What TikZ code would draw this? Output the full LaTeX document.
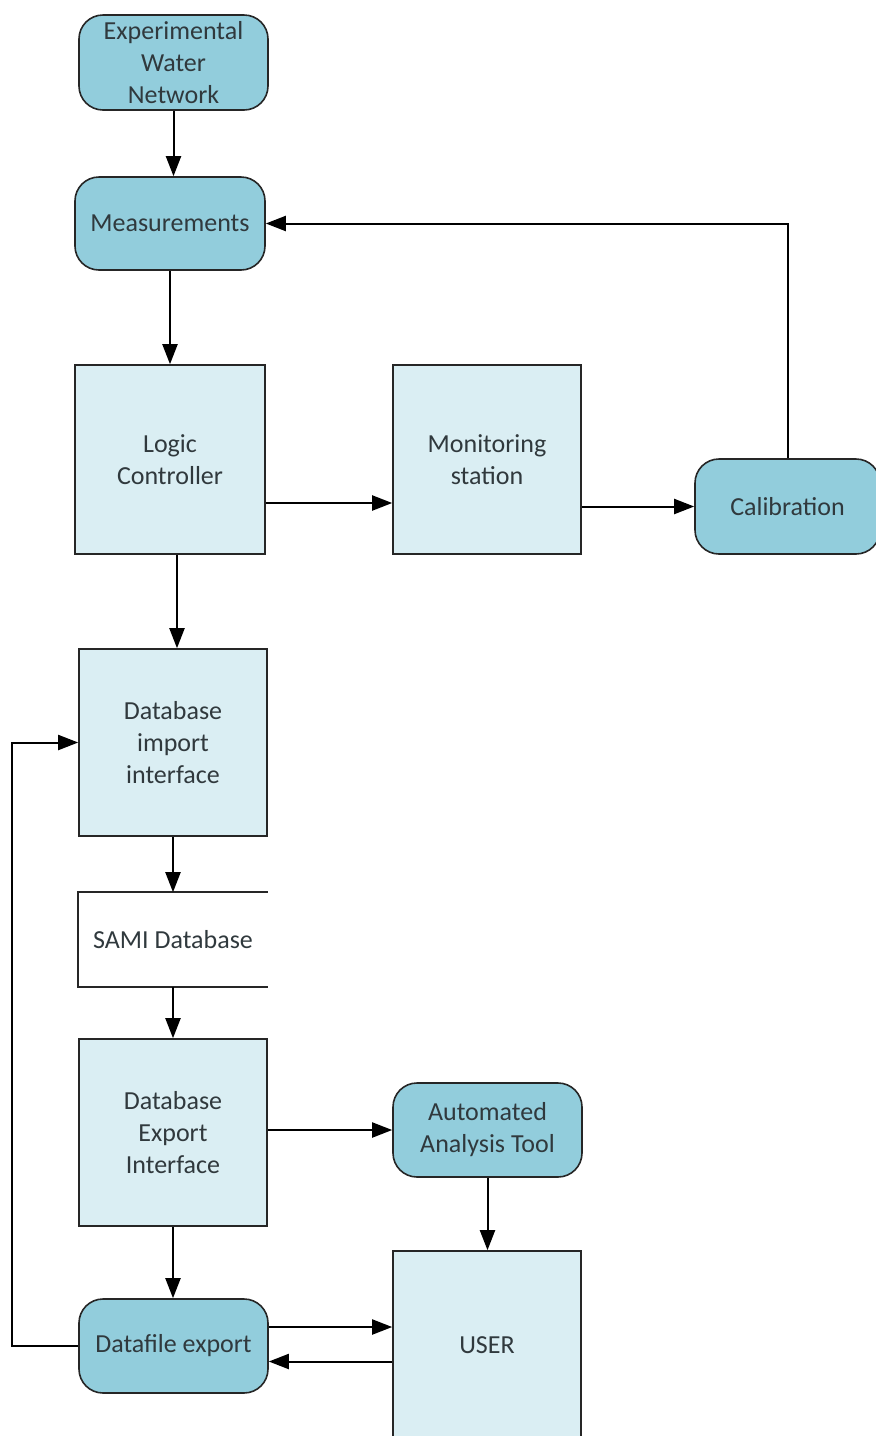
\documentclass[tikz,border=0pt]{standalone}
\usepackage{fontspec}
\setmainfont{Carlito}
\usetikzlibrary{arrows.meta}
\definecolor{aqua}{HTML}{92CDDC}
\definecolor{paleaqua}{HTML}{DAEEF3}
\definecolor{txt}{HTML}{30393D}
\begin{document}
\begin{tikzpicture}[x=1pt,y=-1pt,
  box/.style={draw=black!85, line width=1.6pt, text=txt, align=center,
    font=\fontsize{26}{32}\selectfont, inner sep=0pt},
  term/.style={box, fill=aqua, rounded corners=24pt},
  proc/.style={box, fill=paleaqua},
  link/.style={line width=2pt, draw=black, -{Triangle[length=20pt,width=15pt]}}]
\useasboundingbox (0,0) rectangle (876,1436);

% process boxes
\node[term, minimum width=189pt, minimum height=95pt]  (ewn)   at (173.5,62.5)  {Experimental\\Water\\Network};
\node[term, minimum width=190pt, minimum height=93pt]  (meas)  at (170,223.5)   {Measurements};
\node[proc, minimum width=190pt, minimum height=189pt] (logic) at (170,459.5)   {Logic\\Controller};
\node[proc, minimum width=188pt, minimum height=189pt] (mon)   at (487,459.5)   {Monitoring\\station};
\node[term, minimum width=185pt, minimum height=95pt]  (cal)   at (787.5,506.5) {Calibration};
\node[proc, minimum width=188pt, minimum height=187pt] (dbi)   at (173,742.5)   {Database\\import\\interface};
\node[box, draw=none, minimum width=188pt, minimum height=93pt] (sami) at (173,939.5) {SAMI Database};
\draw[line width=1.6pt, black!85] (sami.north east) -- (sami.north west) -- (sami.south west) -- (sami.south east);
\node[proc, minimum width=188pt, minimum height=187pt] (dbe)   at (173,1132.5)  {Database\\Export\\Interface};
\node[term, minimum width=189pt, minimum height=94pt]  (aat)   at (487.5,1130)  {Automated\\Analysis Tool};
\node[proc, minimum width=188pt, minimum height=189pt] (user)  at (487,1345.5)  {USER};
\node[term, minimum width=189pt, minimum height=94pt]  (dfe)   at (173.5,1346)  {Datafile export};

% connectors
\draw[link] (ewn.south) -- (ewn.south |- meas.north);
\draw[link] (meas.south) -- (logic.north);
\draw[link] ([yshift=-43.5pt]logic.east) -- ([yshift=-43.5pt]mon.west);
\draw[link] (mon.east |- cal.west) -- (cal.west);
\draw[link] (cal.north) -- (cal.north |- meas.east) -- (meas.east);
\draw[link] ([xshift=7pt]logic.south) -- ([xshift=7pt]logic.south |- dbi.north);
\draw[link] (dbi.south) -- (sami.north);
\draw[link] (sami.south) -- (dbe.north);
\draw[link] (dbe.south) -- (dbe.south |- dfe.north);
\draw[link] (dbe.east |- aat.west) -- (aat.west);
\draw[link] (aat.south) -- (aat.south |- user.north);
\draw[link] ([yshift=19pt]dfe.east) -- ([yshift=19pt]dfe.east -| user.west);
\draw[link] ([yshift=-16pt]user.west) -- ([yshift=-16pt]user.west -| dfe.east);
\draw[link] (dfe.west) -- ++(-66,0) |- (dbi.west);
\end{tikzpicture}
\end{document}
